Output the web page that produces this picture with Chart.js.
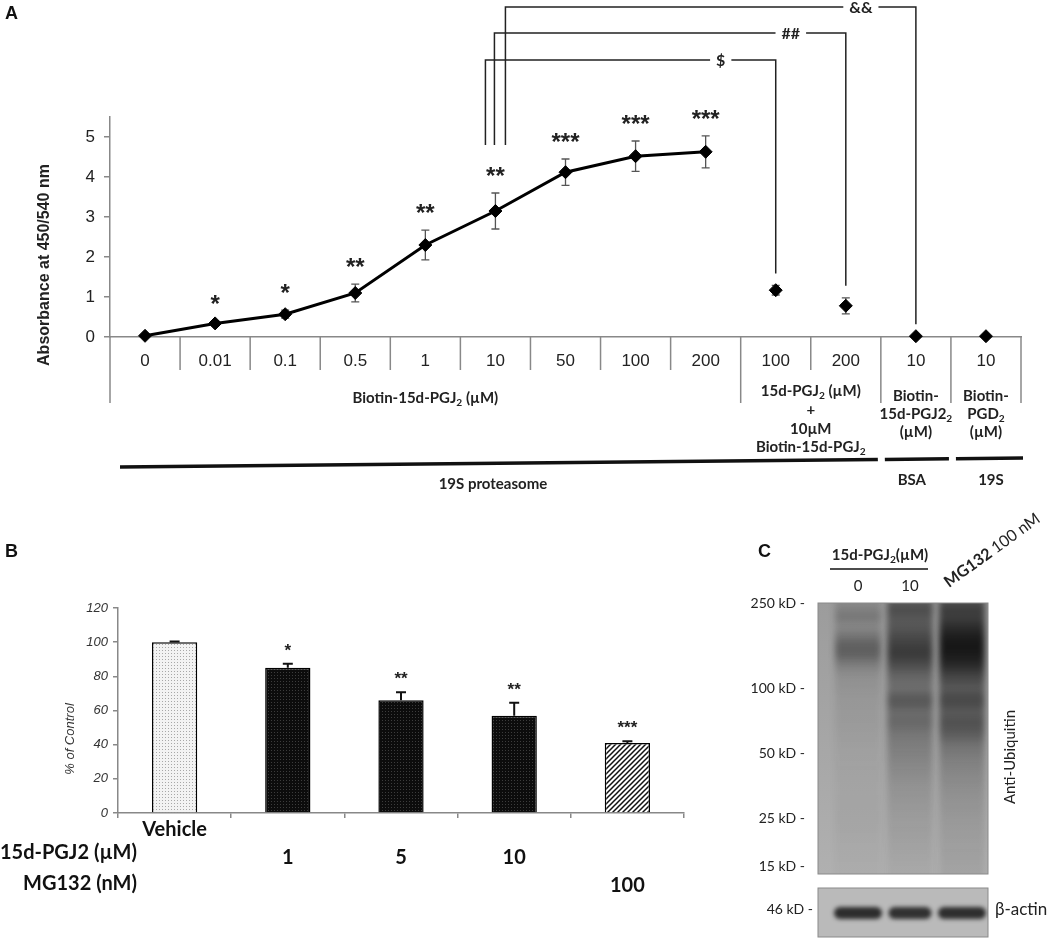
<!DOCTYPE html>
<html>
<head>
<meta charset="utf-8">
<script src="https://cdn.jsdelivr.net/npm/chart.js@4.4.1/dist/chart.umd.min.js"></script>
<style>
body{margin:0;background:#fff;}
#wrap{position:relative;width:1051px;height:940px;overflow:hidden;}
.box{position:absolute;}
.letter{position:absolute;font:bold 18px Arial,"Liberation Sans",sans-serif;color:#111;}
</style>
</head>
<body>
<div id="wrap">
  <div class="box" style="left:0;top:0;width:1051px;height:500px"><canvas id="chartA"></canvas></div>
  <div class="box" style="left:0;top:560px;width:720px;height:380px"><canvas id="chartB"></canvas></div>
  <div class="box" style="left:700px;top:500px;width:351px;height:440px"><canvas id="chartC"></canvas></div>
  <div class="letter" style="left:5px;top:3px">A</div>
  <div class="letter" style="left:5px;top:541px">B</div>
  <div class="letter" style="left:758px;top:541px">C</div>
</div>
<script>
// ---- panel A : binding assay ----
var doseLabels = ['0','0.01','0.1','0.5','1','10','50','100','200','100','200','10','10'];
var absMean = [0.03, 0.34, 0.57, 1.1, 2.3, 3.15, 4.12, 4.52, 4.63, 1.17, 0.78, 0.02, 0.02];
var absErr  = [0, 0.06, 0.1, 0.22, 0.37, 0.45, 0.33, 0.38, 0.4, 0.12, 0.2, 0, 0];
var absStars = ['','*','*','**','**','**','***','***','***','','','',''];
var curveCount = 9;              // first 9 doses are joined by the line
var groupBreaks = [0, 9, 11, 12, 13];
var bracketFrom = [5, 5, 5];
var bracketTo = [9, 10, 11];
var bracketText = ['$', '##', '&&'];

// ---- panel B : proteasome activity ----
var viabLabels = ['Vehicle','','','',''];
var pgjDoses = ['','1','5','10',''];
var mgDoses = ['','','','','100'];
var viabMean = [100, 85, 66, 57, 41];
var viabErr = [0.4, 2.3, 4.7, 7.6, 1.0];
var viabStars = ['','*','**','**','***'];

// ---- panel C : western blot ----
var laneNames = ['0','10','MG132 100 nM'];
var kdMarks = [250, 100, 50, 25, 15];
var smearKd = [250,235,215,195,175,160,145,130,115,100,92,86,78,70,62,55,45,35,25,15];
var laneDark = [
  [0.12,0.2,0.28,0.15,0.3,0.45,0.45,0.25,0.12,0.1,0.08,0.08,0.07,0.07,0.06,0.05,0.04,0.03,0.04,0.02],
  [0.45,0.6,0.5,0.5,0.6,0.68,0.72,0.6,0.42,0.35,0.5,0.52,0.38,0.42,0.32,0.28,0.22,0.15,0.1,0.05],
  [0.55,0.7,0.68,0.8,0.92,0.97,0.95,0.85,0.65,0.5,0.62,0.62,0.5,0.58,0.5,0.35,0.25,0.18,0.12,0.08]
];
var actinDark = [0.88, 0.85, 0.87];

Chart.defaults.font.family = 'Arial, "Liberation Sans", sans-serif';
Chart.defaults.color = '#222';
Chart.defaults.animation = false;
Chart.defaults.plugins.legend.display = false;
Chart.defaults.plugins.tooltip.enabled = false;

var LATO = 'Lato, "Liberation Sans", sans-serif';

//draw centered text with subscript parts
function rich(ctx, parts, cx, y, size, weight){
  var w = 0;
  parts.forEach(function(p){
    ctx.font = weight + ' ' + (p[1] ? size*0.68 : size) + 'px ' + LATO;
    w += ctx.measureText(p[0]).width;
  });
  var xx = cx - w/2;
  ctx.textAlign = 'left';
  parts.forEach(function(p){
    ctx.font = weight + ' ' + (p[1] ? size*0.68 : size) + 'px ' + LATO;
    ctx.fillText(p[0], xx, p[1] ? y + size*0.3 : y);
    xx += ctx.measureText(p[0]).width;
  });
}

function seg(ctx, x1, y1, x2, y2){
  ctx.beginPath(); ctx.moveTo(x1, y1); ctx.lineTo(x2, y2); ctx.stroke();
}

var panelA = {
  id: 'panelA',
  beforeDatasetsDraw: function(chart){
    var ctx = chart.ctx, x = chart.scales.x, y = chart.scales.y;
    ctx.save();
    ctx.strokeStyle = '#555'; ctx.lineWidth = 1.3;
    absMean.forEach(function(m, i){
      var e = absErr[i];
      if(!e) return;
      var px = x.getPixelForValue(i), t = y.getPixelForValue(m+e), b = y.getPixelForValue(m-e);
      ctx.beginPath();
      ctx.moveTo(px, t); ctx.lineTo(px, b);
      ctx.moveTo(px-4, t); ctx.lineTo(px+4, t);
      ctx.moveTo(px-4, b); ctx.lineTo(px+4, b);
      ctx.stroke();
    });
    ctx.restore();
  },
  afterDraw: function(chart){
    var ctx = chart.ctx, ca = chart.chartArea, x = chart.scales.x, y = chart.scales.y;
    var step = (ca.right - ca.left) / doseLabels.length;
    var edge = function(i){ return ca.left + i*step; };
    ctx.save();
    //category separators
    ctx.strokeStyle = '#888'; ctx.lineWidth = 1.5;
    for(var i = 0; i <= doseLabels.length; i++){
      seg(ctx, edge(i), ca.bottom, edge(i), ca.bottom + (groupBreaks.indexOf(i) >= 0 ? 66 : 33));
    }
    //significance stars
    ctx.fillStyle = '#222'; ctx.font = 'bold 24px Arial, "Liberation Sans"';
    ctx.textAlign = 'center'; ctx.textBaseline = 'alphabetic';
    absStars.forEach(function(s, i){
      if(!s) return;
      ctx.fillText(s, x.getPixelForValue(i), y.getPixelForValue(absMean[i]+absErr[i]) - 9);
    });
    //brackets
    var levels = [60, 33, 7], offs = [-10, -1, 10];
    ctx.strokeStyle = '#222'; ctx.lineWidth = 1.5;
    ctx.font = 'bold 16px ' + LATO; ctx.textBaseline = 'middle';
    bracketTo.forEach(function(to, k){
      var f = bracketFrom[k];
      var lx = x.getPixelForValue(f) + offs[k], rx = x.getPixelForValue(to), ly = levels[k];
      var lb = y.getPixelForValue(absMean[f]+absErr[f]) - 48;
      var rb = y.getPixelForValue(absMean[to]+absErr[to]) - 12;
      var cx = rx - 55, hw = ctx.measureText(bracketText[k]).width/2 + 6;
      ctx.beginPath();
      ctx.moveTo(lx, lb); ctx.lineTo(lx, ly); ctx.lineTo(cx-hw, ly);
      ctx.moveTo(cx+hw, ly); ctx.lineTo(rx, ly); ctx.lineTo(rx, rb);
      ctx.stroke();
      ctx.textAlign = 'center';
      ctx.fillText(bracketText[k], cx, ly + 1);
    });
    //group captions under the axis
    ctx.fillStyle = '#222'; ctx.textBaseline = 'middle';
    var mid = function(a, b){ return (x.getPixelForValue(a) + x.getPixelForValue(b))/2; };
    rich(ctx, [['Biotin-15d-PGJ'],['2',1],[' (\u00b5M)']], mid(0, 8), 398, 15, 'bold');
    var c9 = mid(9, 10);
    rich(ctx, [['15d-PGJ'],['2',1],[' (\u00b5M)']], c9, 391, 15, 'bold');
    rich(ctx, [['+']], c9, 410, 15, 'bold');
    rich(ctx, [['10\u00b5M']], c9, 429, 15, 'bold');
    rich(ctx, [['Biotin-15d-PGJ'],['2',1]], c9, 447, 15, 'bold');
    var c11 = x.getPixelForValue(11), c12 = x.getPixelForValue(12);
    rich(ctx, [['Biotin-']], c11, 396, 15, 'bold');
    rich(ctx, [['15d-PGJ2'],['2',1]], c11, 414, 15, 'bold');
    rich(ctx, [['(\u00b5M)']], c11, 432, 15, 'bold');
    rich(ctx, [['Biotin-']], c12, 396, 15, 'bold');
    rich(ctx, [['PGD'],['2',1]], c12, 414, 15, 'bold');
    rich(ctx, [['(\u00b5M)']], c12, 432, 15, 'bold');
    //protein bars
    ctx.strokeStyle = '#111'; ctx.lineWidth = 3.5;
    var slope = function(px){ return 467 - (px - 120) * 9/903; };
    var spans = [[edge(0)+10, edge(11)-3], [edge(11)+4, edge(12)-2], [edge(12)+5, edge(13)+2]];
    spans.forEach(function(s){ seg(ctx, s[0], slope(s[0]), s[1], slope(s[1])); });
    rich(ctx, [['19S proteasome']], (spans[0][0]+spans[0][1])/2 - 6, 484, 15, 'bold');
    rich(ctx, [['BSA']], c11 - 4, 480, 15, 'bold');
    rich(ctx, [['19S']], c12 + 5, 480, 15, 'bold');
    //y title
    ctx.translate(45, 265); ctx.rotate(-Math.PI/2);
    ctx.font = 'bold 16px Arial, "Liberation Sans"'; ctx.textAlign = 'center';
    ctx.fillText('Absorbance at 450/540 nm', 0, 0);
    ctx.restore();
  }
};

var pointStyle = {pointStyle:'rectRot', pointRadius:6.5, pointBackgroundColor:'#000', pointBorderColor:'#000', pointBorderWidth:1, clip:false};

new Chart(document.getElementById('chartA'), {
  type: 'line',
  data: {
    labels: doseLabels,
    datasets: [
      Object.assign({data: absMean.map(function(v, i){ return i < curveCount ? v : null; }), borderColor:'#000', borderWidth:3}, pointStyle),
      Object.assign({data: absMean.map(function(v, i){ return i < curveCount ? null : v; }), showLine:false}, pointStyle)
    ]
  },
  options: {
    responsive: true, maintainAspectRatio: false,
    layout: {padding: {top:117, right:30, left:0, bottom:0}},
    scales: {
      x: {
        offset: true,
        grid: {display:false},
        border: {color:'#888', width:1.5},
        ticks: {font:{size:17}, color:'#222', padding:6, autoSkip:false, maxRotation:0},
        afterFit: function(s){ s.height = 163; }
      },
      y: {
        min: 0, max: 5.5,
        ticks: {stepSize:1, font:{size:17}, color:'#222', padding:9},
        grid: {drawOnChartArea:false, tickLength:6, color:'#888', lineWidth:1.5},
        border: {color:'#888', width:1.5},
        afterBuildTicks: function(s){ s.ticks = s.ticks.filter(function(t){ return Number.isInteger(t.value); }); },
        afterFit: function(s){ s.width = 110; }
      }
    }
  },
  plugins: [panelA]
});

// ---- panel B ----
function tile(w, h, draw){
  var c = document.createElement('canvas'); c.width = w; c.height = h;
  var g = c.getContext('2d'); draw(g);
  return g.createPattern(c, 'repeat');
}
var dotsLight = tile(3, 3, function(g){ g.fillStyle='#f3f3f3'; g.fillRect(0,0,3,3); g.fillStyle='#a8a8a8'; g.fillRect(0,0,1,1); });
var dotsDark = tile(3, 3, function(g){ g.fillStyle='#0c0c0c'; g.fillRect(0,0,3,3); g.fillStyle='#3c3c3c'; g.fillRect(1,1,1,1); });
var hatch = tile(5, 5, function(g){
  g.fillStyle='#fff'; g.fillRect(0,0,5,5);
  g.strokeStyle='#111'; g.lineWidth=1.5; g.beginPath();
  g.moveTo(-1,6); g.lineTo(6,-1); g.moveTo(-3,3); g.lineTo(3,-3); g.moveTo(2,8); g.lineTo(8,2); g.stroke();
});

var panelB = {
  id: 'panelB',
  afterDatasetsDraw: function(chart){
    var ctx = chart.ctx, x = chart.scales.x, y = chart.scales.y;
    ctx.save();
    ctx.strokeStyle = '#111'; ctx.lineWidth = 2;
    viabMean.forEach(function(m, i){
      var px = x.getPixelForValue(i), b = y.getPixelForValue(m), t = y.getPixelForValue(m + viabErr[i]);
      ctx.beginPath(); ctx.moveTo(px, b); ctx.lineTo(px, t);
      ctx.moveTo(px-5, t); ctx.lineTo(px+5, t); ctx.stroke();
    });
    ctx.fillStyle = '#222'; ctx.font = 'bold 17px Arial, "Liberation Sans"';
    ctx.textAlign = 'center'; ctx.textBaseline = 'alphabetic';
    viabStars.forEach(function(s, i){
      if(!s) return;
      ctx.fillText(s, x.getPixelForValue(i), y.getPixelForValue(viabMean[i]+viabErr[i]) - 8);
    });
    ctx.fillStyle = '#111'; ctx.font = 'bold 20px ' + LATO;
    ctx.textAlign = 'right'; ctx.textBaseline = 'middle';
    ctx.fillText('15d-PGJ2 (\u00b5M)', 137, 293);
    ctx.fillText('MG132 (nM)', 137, 324);
    ctx.translate(70, 179); ctx.rotate(-Math.PI/2);
    ctx.font = 'italic 13px Arial, "Liberation Sans"'; ctx.fillStyle = '#333'; ctx.textAlign = 'center';
    ctx.fillText('% of Control', 0, 0);
    ctx.restore();
  }
};

new Chart(document.getElementById('chartB'), {
  type: 'bar',
  data: {
    labels: viabLabels.map(function(v, i){ return [v, pgjDoses[i], mgDoses[i]]; }),
    datasets: [{
      data: viabMean,
      backgroundColor: [dotsLight, dotsDark, dotsDark, dotsDark, hatch],
      borderColor: '#000', borderWidth: 1.5,
      barPercentage: 0.4, categoryPercentage: 1
    }]
  },
  options: {
    responsive: true, maintainAspectRatio: false,
    layout: {padding: {top:48, right:36, left:0, bottom:0}},
    scales: {
      x: {
        grid: {offset:true, drawOnChartArea:false, tickLength:5, color:'#888', lineWidth:1.5},
        border: {color:'#888', width:1.5},
        ticks: {font:{family:LATO, size:20, weight:'bold', lineHeight:1.4}, color:'#111', padding:-2, autoSkip:false, maxRotation:0},
        afterFit: function(s){ s.height = 127; }
      },
      y: {
        min: 0, max: 120,
        ticks: {stepSize:20, font:{size:13, style:'italic'}, color:'#333', padding:5},
        grid: {drawOnChartArea:false, tickLength:5, color:'#888', lineWidth:1.5},
        border: {color:'#888', width:1.5},
        afterFit: function(s){ s.width = 118; }
      }
    }
  },
  plugins: [panelB]
});

// ---- panel C ----
var panelC = {
  id: 'panelC',
  beforeDatasetsDraw: function(chart){
    var ctx = chart.ctx, ca = chart.chartArea, x = chart.scales.x, y = chart.scales.y;
    var L = ca.left - 14, R = ca.right, T = ca.top, B = ca.bottom;
    ctx.save();
    var bg = ctx.createLinearGradient(0, T, 0, B);
    bg.addColorStop(0, '#9c9c9c'); bg.addColorStop(1, '#b0b0b0');
    ctx.fillStyle = bg; ctx.fillRect(L, T, R-L, B-T);
    ctx.save();
    ctx.beginPath(); ctx.rect(L, T, R-L, B-T); ctx.clip();
    ctx.filter = 'blur(3px)';
    laneDark.forEach(function(prof, i){
      var cx = x.getPixelForValue(i);
      var lg = ctx.createLinearGradient(0, T, 0, B);
      smearKd.forEach(function(kd, j){
        var pos = Math.min(1, Math.max(0, (y.getPixelForValue(kd) - T)/(B - T)));
        lg.addColorStop(pos, 'rgba(18,18,18,' + prof[j] + ')');
      });
      ctx.fillStyle = lg;
      ctx.fillRect(cx - 23, T - 10, 46, B - T + 20);
    });
    ctx.restore();
    ctx.strokeStyle = '#8a8a8a'; ctx.lineWidth = 1;
    ctx.strokeRect(L, T, R-L, B-T);
    //beta-actin strip
    var aT = B + 14, aB = B + 63;
    ctx.fillStyle = '#bababa'; ctx.fillRect(L, aT, R-L, aB-aT);
    ctx.strokeRect(L, aT, R-L, aB-aT);
    ctx.save();
    ctx.beginPath(); ctx.rect(L, aT, R-L, aB-aT); ctx.clip();
    ctx.filter = 'blur(2px)';
    actinDark.forEach(function(d, i){
      var cx = x.getPixelForValue(i), w = i === 1 ? 43 : 48;
      ctx.fillStyle = 'rgba(25,25,25,' + d + ')';
      ctx.beginPath(); ctx.roundRect(cx - w/2, aT + 19, w, 12, 6); ctx.fill();
    });
    ctx.restore();
    //labels
    ctx.fillStyle = '#222'; ctx.textBaseline = 'middle';
    ctx.font = '14px ' + LATO; ctx.textAlign = 'right';
    ctx.fillText('46 kD -', ca.left - 19, aT + 21);
    ctx.font = '17px ' + LATO; ctx.textAlign = 'left';
    ctx.fillText('\u03b2-actin', 295, aT + 22);
    rich(ctx, [['15d-PGJ'],['2',1],['(\u00b5M)']], 180, 55, 15, 'bold');
    ctx.strokeStyle = '#111'; ctx.lineWidth = 1.5;
    seg(ctx, 130, 69, 228, 69);
    ctx.font = '15px ' + LATO; ctx.textAlign = 'center';
    ctx.fillText(laneNames[0], x.getPixelForValue(0), 86);
    ctx.fillText(laneNames[1], x.getPixelForValue(1), 86);
    ctx.save();
    ctx.translate(310, 257); ctx.rotate(-Math.PI/2);
    ctx.fillText('Anti-Ubiquitin', 0, 0);
    ctx.restore();
    ctx.translate(249, 88); ctx.rotate(-36 * Math.PI/180);
    ctx.textAlign = 'left'; ctx.textBaseline = 'alphabetic';
    ctx.font = 'bold 16px ' + LATO;
    ctx.fillText('MG132', 0, 0);
    var mw = ctx.measureText('MG132 ').width;
    ctx.font = '16px ' + LATO;
    ctx.fillText('100 nM', mw, 0);
    ctx.restore();
  }
};

new Chart(document.getElementById('chartC'), {
  type: 'bar',
  data: {labels: laneNames, datasets: []},
  options: {
    responsive: true, maintainAspectRatio: false,
    layout: {padding: {top:103, right:63, left:0, bottom:66}},
    scales: {
      x: {display: false},
      y: {
        type: 'logarithmic', min: 13.9, max: 250,
        grid: {display:false}, border: {display:false},
        ticks: {font:{family:LATO, size:14}, color:'#222', padding:19, autoSkip:false,
                callback: function(v){ return v + ' kD -'; }},
        afterBuildTicks: function(s){ s.ticks = kdMarks.map(function(v){ return {value: v}; }); },
        afterFit: function(s){ s.width = 132; }
      }
    }
  },
  plugins: [panelC]
});
</script>
</body>
</html>
